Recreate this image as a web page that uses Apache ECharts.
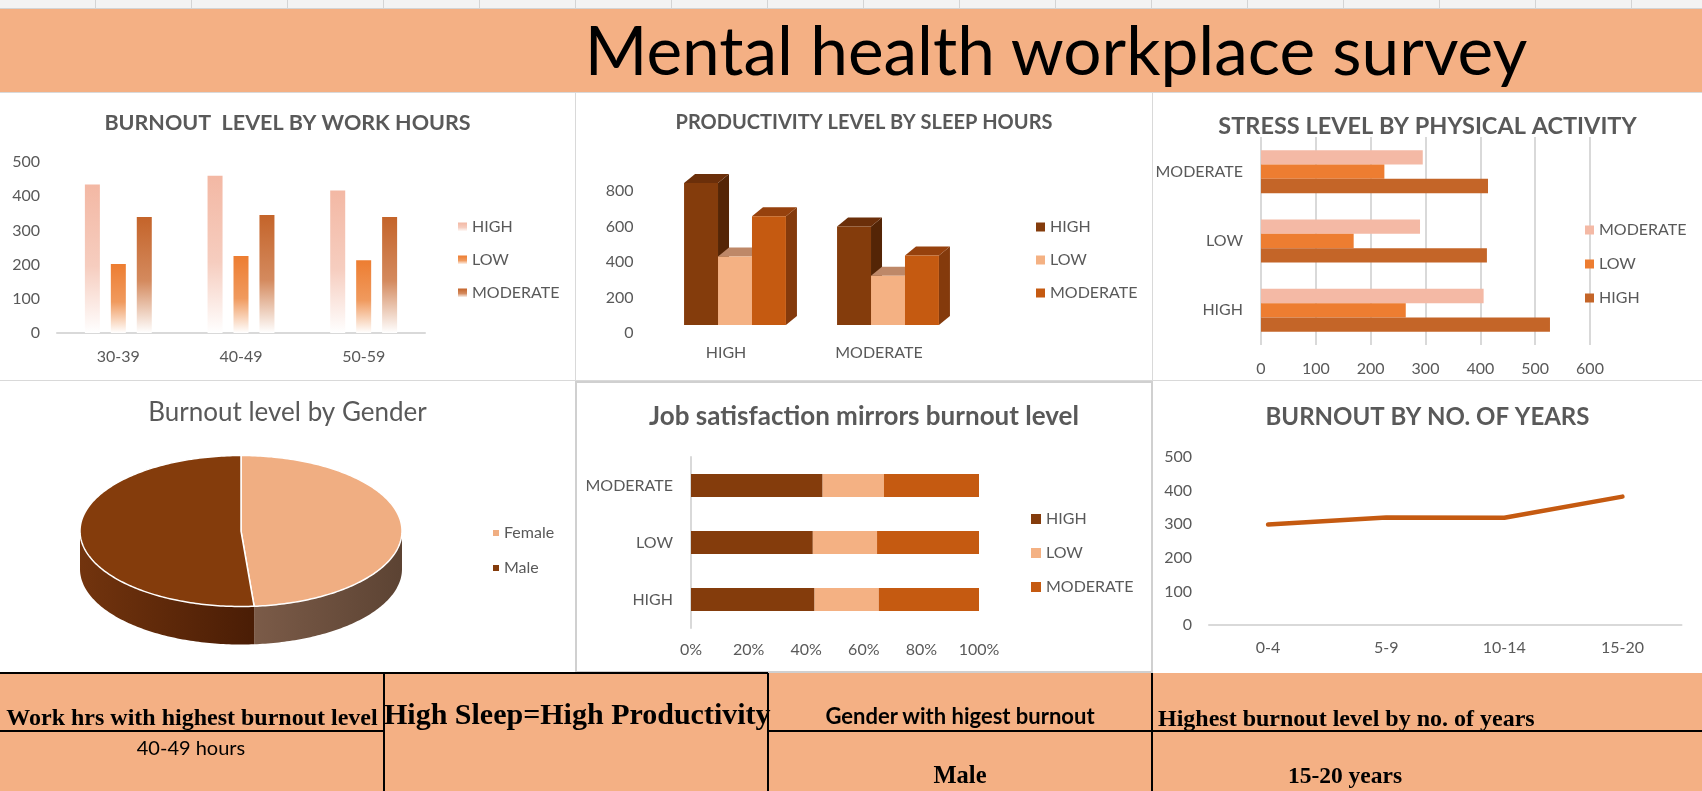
<!DOCTYPE html>
<html>
<head>
<meta charset="utf-8">
<title>Mental health workplace survey</title>
<script src="https://cdn.jsdelivr.net/npm/echarts@6/dist/echarts.min.js"></script>
<style>
  html, body { margin: 0; padding: 0; }
  body { width: 1702px; height: 791px; position: relative; overflow: hidden; background: #fff; font-family: Lato, sans-serif; }
  .abs { position: absolute; }
  #colhead { left: 0; top: 0; width: 1702px; height: 8px; background-color: #f3f3f3; border-bottom: 1px solid #d4d4d4;
    background-image: repeating-linear-gradient(to right, transparent 0, transparent 95px, #d4d4d4 95px, #d4d4d4 96px); }
  #banner { left: 0; top: 9px; width: 1702px; height: 83px; background: #F4B084; }
  #gridbg { left: 0; top: 92px; width: 1702px; height: 581px; background: #D9D9D9; }
  .panel { position: absolute; background: #fff; }
  #band { left: 0; top: 673px; width: 1702px; height: 118px; background: #F4B084; }
  .t { position: absolute; white-space: nowrap; line-height: 1; color: #000; }
  .serif { font-family: "Liberation Serif", "Times New Roman", serif; font-weight: bold; }
  .ln { position: absolute; background: #000; }
</style>
</head>
<body>
<div id="colhead" class="abs"></div>
<div id="banner" class="abs"></div>
<div class="t" style="left:556px; width:1000px; text-align:center; top:15px; font-size:67.5px;">Mental health workplace survey</div>

<div id="gridbg" class="abs"></div>
<div id="c1" class="panel" style="left:0; top:93px; width:575px; height:287px;"></div>
<div id="c2" class="panel" style="left:576px; top:93px; width:576px; height:287px;"></div>
<div id="c3" class="panel" style="left:1153px; top:93px; width:549px; height:287px;"></div>
<div id="c4" class="panel" style="left:0; top:381px; width:575px; height:292px;"></div>
<div id="c5" class="panel" style="left:576px; top:382px; width:576px; height:290px; outline:2px solid #d0d0d0; outline-offset:-1px;"></div>
<div id="c6" class="panel" style="left:1153px; top:381px; width:549px; height:292px;"></div>

<div id="band" class="abs"></div>
<div class="ln" style="left:0; top:672px; width:768px; height:2px;"></div>
<div class="ln" style="left:383px; top:673px; width:2px; height:118px;"></div>
<div class="ln" style="left:767px; top:673px; width:2px; height:118px;"></div>
<div class="ln" style="left:1151px; top:673px; width:2px; height:118px;"></div>
<div class="ln" style="left:0; top:730px; width:384px; height:2px;"></div>
<div class="ln" style="left:768px; top:730px; width:934px; height:2px;"></div>

<div class="t serif" style="left:0; width:384px; text-align:center; top:705px; font-size:24px;">Work hrs with highest burnout level</div>
<div class="t" style="left:0; width:382px; text-align:center; top:737px; font-size:20px;">40-49 hours</div>
<div class="t serif" style="left:384px; width:384px; text-align:center; top:699px; font-size:30px;">High Sleep=High Productivity</div>
<div class="t" style="left:768px; width:384px; text-align:center; top:705px; font-size:22px; font-weight:bold;">Gender with higest burnout</div>
<div class="t serif" style="left:768px; width:384px; text-align:center; top:763px; font-size:24.5px;">Male</div>
<div class="t serif" style="left:1158px; top:706px; font-size:24px;">Highest burnout level by no. of years</div>
<div class="t serif" style="left:1245px; width:200px; text-align:center; top:764px; font-size:23.5px;">15-20 years</div>

<script>
// ---- data ----
const workHours = ['30-39', '40-49', '50-59'];
const burnoutHigh = [434, 460, 417];
const burnoutLow = [202, 225, 213];
const burnoutModerate = [339, 345, 339];

const sleepCats = ['HIGH', 'MODERATE'];
const prodHigh = [800, 555];
const prodLow = [386, 278];
const prodModerate = [612, 391];

const activityCats = ['HIGH', 'LOW', 'MODERATE'];
const stressHigh = [527, 412, 414];
const stressLow = [264, 169, 225];
const stressModerate = [406, 290, 295];

const genders = ['Female', 'Male'];
const genderBurnout = [487, 513];

const satisfactionCats = ['HIGH', 'LOW', 'MODERATE'];
const satHigh = [42.9, 42.3, 45.7];
const satLow = [22.3, 22.3, 21.3];
const satModerate = [34.8, 35.4, 33.0];

const yearBands = ['0-4', '5-9', '10-14', '15-20'];
const yearBurnout = [299, 320, 319, 382];

// ---- shared styles ----
const GREY = '#595959';
const FONT = 'Lato';

function titleOf(text, top, size, weight) {
  return {
    text: text, left: 'center', top: top, padding: 0,
    textStyle: { fontFamily: FONT, fontSize: size, fontWeight: weight || 'bold', color: GREY }
  };
}
function legendAt(left, top, gap, w, h, data) {
  const l = {
    orient: 'vertical', left: left, top: top, padding: 0, itemGap: gap,
    itemWidth: w || 9, itemHeight: h || 9, icon: 'rect',
    textStyle: { fontFamily: FONT, fontSize: 16, color: GREY, lineHeight: 16 }
  };
  if (data) l.data = data;
  return l;
}
const labelStyle = { fontFamily: FONT, fontSize: 16, color: GREY };

function fade(color, mid) {
  return new echarts.graphic.LinearGradient(0, 0, 0, 1, [
    { offset: 0, color: color },
    { offset: 0.55, color: mid },
    { offset: 1, color: '#ffffff' }
  ]);
}

// ---- 1. burnout by work hours ----
const chart1 = echarts.init(document.getElementById('c1'));
chart1.setOption({
  animation: false,
  title: titleOf('BURNOUT  LEVEL BY WORK HOURS', 19, 21.5),
  legend: legendAt(458, 126, 17),
  grid: { left: 57, right: 150, top: 69, bottom: 47, outerBoundsMode: 'none' },
  xAxis: {
    type: 'category', data: workHours,
    axisLine: { lineStyle: { color: '#D9D9D9', width: 2 } },
    axisTick: { show: false },
    axisLabel: Object.assign({ margin: 16 }, labelStyle)
  },
  yAxis: {
    type: 'value', min: 0, max: 500, interval: 100,
    splitLine: { show: false },
    axisLabel: Object.assign({ margin: 17 }, labelStyle)
  },
  series: [
    { name: 'HIGH', type: 'bar', barWidth: 15, barGap: '73%', data: burnoutHigh,
      itemStyle: { color: fade('#F3B8A4', '#F6CDBF') } },
    { name: 'LOW', type: 'bar', barWidth: 15, barGap: '73%', data: burnoutLow,
      itemStyle: { color: fade('#ED7D31', '#F09A5E') } },
    { name: 'MODERATE', type: 'bar', barWidth: 15, barGap: '73%', data: burnoutModerate,
      itemStyle: { color: fade('#C4642A', '#D48A5E') } }
  ]
});

// ---- 2. productivity by sleep hours (3D columns) ----
function cuboid(slot, front, top, side) {
  return function (params, api) {
    const base = api.coord([api.value(0), 0]);
    const peak = api.coord([api.value(0), api.value(1)]);
    const band = api.size([1, 0])[0];
    const bw = band * 0.222;
    const x0 = base[0] - 1.5 * bw + slot * bw;
    const x1 = x0 + bw;
    const yT = peak[1], yB = base[1];
    const dx = 11, dy = 9;
    return {
      type: 'group',
      children: [
        { type: 'polygon', shape: { points: [[x1, yT], [x1 + dx, yT - dy], [x1 + dx, yB - dy], [x1, yB]] }, style: { fill: side } },
        { type: 'polygon', shape: { points: [[x0, yT], [x1, yT], [x1 + dx, yT - dy], [x0 + dx, yT - dy]] }, style: { fill: top } },
        { type: 'rect', shape: { x: x0, y: yT, width: bw, height: yB - yT }, style: { fill: front } }
      ]
    };
  };
}
const chart2 = echarts.init(document.getElementById('c2'));
chart2.setOption({
  animation: false,
  title: titleOf('PRODUCTIVITY LEVEL BY SLEEP HOURS', 20, 20),
  legend: legendAt(460, 126, 17),
  grid: { left: 82.5, right: 187.5, top: 90, bottom: 55, outerBoundsMode: 'none' },
  xAxis: {
    type: 'category', data: sleepCats,
    axisLine: { show: false }, axisTick: { show: false },
    axisLabel: Object.assign({ margin: 20, padding: [0, 18, 0, 0] }, labelStyle)
  },
  yAxis: {
    type: 'value', min: 0, max: 800, interval: 200,
    axisLine: { show: false }, splitLine: { show: false },
    axisLabel: Object.assign({ margin: 25, verticalAlign: 'top' }, labelStyle)
  },
  series: [
    { name: 'HIGH', type: 'custom', encode: { x: 0, y: 1 }, itemStyle: { color: '#843C0C' },
      renderItem: cuboid(0, '#843C0C', '#6B2F0A', '#542506'),
      data: sleepCats.map((c, i) => [i, prodHigh[i]]) },
    { name: 'LOW', type: 'custom', encode: { x: 0, y: 1 }, itemStyle: { color: '#F4B183' },
      renderItem: cuboid(1, '#F4B183', '#BE8868', '#A86E4C'),
      data: sleepCats.map((c, i) => [i, prodLow[i]]) },
    { name: 'MODERATE', type: 'custom', encode: { x: 0, y: 1 }, itemStyle: { color: '#C55A11' },
      renderItem: cuboid(2, '#C55A11', '#96410D', '#843A0C'),
      data: sleepCats.map((c, i) => [i, prodModerate[i]]) }
  ]
});

// ---- 3. stress by physical activity ----
const chart3 = echarts.init(document.getElementById('c3'));
chart3.setOption({
  animation: false,
  title: titleOf('STRESS LEVEL BY PHYSICAL ACTIVITY', 21, 23.5),
  legend: legendAt(432, 129, 18, 9, 9, ['MODERATE', 'LOW', 'HIGH']),
  grid: { left: 108, right: 112, top: 44, bottom: 35, outerBoundsMode: 'none' },
  xAxis: {
    type: 'value', min: 0, max: 600, interval: 100,
    axisLine: { show: false }, axisTick: { show: false },
    splitLine: { lineStyle: { color: '#D9D9D9', width: 2 } },
    axisLabel: Object.assign({ margin: 16 }, labelStyle)
  },
  yAxis: {
    type: 'category', data: activityCats,
    axisLine: { show: false }, axisTick: { show: false },
    axisLabel: Object.assign({ margin: 18 }, labelStyle)
  },
  series: [
    { name: 'MODERATE', type: 'bar', barGap: 0, barCategoryGap: '38%', data: stressModerate, itemStyle: { color: '#F4B9A5' } },
    { name: 'LOW', type: 'bar', barGap: 0, barCategoryGap: '38%', data: stressLow, itemStyle: { color: '#ED7D31' } },
    { name: 'HIGH', type: 'bar', barGap: 0, barCategoryGap: '38%', data: stressHigh, itemStyle: { color: '#C46528' } }
  ]
});

// ---- 4. burnout by gender (3D pie) ----
const PIE = { cx: 241, cy: 150, rx: 161, ry: 75.5, depth: 38 };
const genderTotal = genderBurnout.reduce((a, b) => a + b, 0);
function ellPt(t, dy) {
  const r = t * Math.PI / 180;
  return [PIE.cx + PIE.rx * Math.sin(r), PIE.cy - PIE.ry * Math.cos(r) + dy];
}
function arc(a, b, dy) {
  const pts = [];
  const n = Math.max(2, Math.ceil(Math.abs(b - a)));
  for (let k = 0; k <= n; k++) pts.push(ellPt(a + (b - a) * k / n, dy));
  return pts;
}
function pieSlice(idx, topColor, sideLeft, sideRight) {
  return function (params, api) {
    let before = 0;
    for (let k = 0; k < idx; k++) before += genderBurnout[k];
    const a0 = before / genderTotal * 360;
    const a1 = (before + api.value(0)) / genderTotal * 360;
    const children = [];
    const s0 = Math.max(a0, 90), s1 = Math.min(a1, 270);
    if (s1 > s0) {
      const front = arc(s0, s1, 0);
      const back = arc(s1, s0, PIE.depth);
      const xs = front.map(p => p[0]);
      const xl = Math.min.apply(null, xs), xr = Math.max.apply(null, xs);
      children.push({
        type: 'polygon', shape: { points: front.concat(back) },
        style: { fill: new echarts.graphic.LinearGradient(xl, 0, xr, 0, [
          { offset: 0, color: sideLeft }, { offset: 1, color: sideRight }], true) }
      });
    }
    children.push({
      type: 'polygon', shape: { points: [[PIE.cx, PIE.cy]].concat(arc(a0, a1, 0)) },
      style: { fill: topColor, stroke: '#ffffff', lineWidth: 1.5 }
    });
    return { type: 'group', children: children };
  };
}
const chart4 = echarts.init(document.getElementById('c4'));
chart4.setOption({
  animation: false,
  title: titleOf('Burnout level by Gender', 19, 26, 'normal'),
  legend: legendAt(493, 144, 19, 6, 6),
  series: [
    { name: genders[0], type: 'custom', coordinateSystem: 'none', itemStyle: { color: '#F0AE82' },
      renderItem: pieSlice(0, '#F0AE82', '#7B5B48', '#5C4333'), data: [genderBurnout[0]] },
    { name: genders[1], type: 'custom', coordinateSystem: 'none', itemStyle: { color: '#843C0C' },
      renderItem: pieSlice(1, '#843C0C', '#72340E', '#4A1D05'), data: [genderBurnout[1]] }
  ]
});

// ---- 5. job satisfaction (100% stacked) ----
const chart5 = echarts.init(document.getElementById('c5'));
chart5.setOption({
  animation: false,
  title: titleOf('Job satisfaction mirrors burnout level', 22, 26),
  legend: legendAt(455, 129, 18, 10, 10),
  grid: { left: 115, right: 173, top: 75, bottom: 44, outerBoundsMode: 'none' },
  xAxis: {
    type: 'value', min: 0, max: 100, interval: 20,
    axisLine: { show: false }, axisTick: { show: false }, splitLine: { show: false },
    axisLabel: Object.assign({ margin: 14, formatter: '{value}%' }, labelStyle)
  },
  yAxis: {
    type: 'category', data: satisfactionCats,
    axisLine: { lineStyle: { color: '#D9D9D9', width: 2 } }, axisTick: { show: false },
    axisLabel: Object.assign({ margin: 18 }, labelStyle)
  },
  series: [
    { name: 'HIGH', type: 'bar', stack: 'all', barCategoryGap: '60%', data: satHigh, itemStyle: { color: '#843C0C' } },
    { name: 'LOW', type: 'bar', stack: 'all', barCategoryGap: '60%', data: satLow, itemStyle: { color: '#F4B183' } },
    { name: 'MODERATE', type: 'bar', stack: 'all', barCategoryGap: '60%', data: satModerate, itemStyle: { color: '#C55A11' } }
  ]
});

// ---- 6. burnout by years ----
const chart6 = echarts.init(document.getElementById('c6'));
chart6.setOption({
  animation: false,
  title: titleOf('BURNOUT BY NO. OF YEARS', 24, 24),
  grid: { left: 56, right: 20.5, top: 76, bottom: 48, outerBoundsMode: 'none' },
  xAxis: {
    type: 'category', data: yearBands,
    axisLine: { lineStyle: { color: '#D9D9D9', width: 2 } }, axisTick: { show: false },
    axisLabel: Object.assign({ margin: 15 }, labelStyle)
  },
  yAxis: {
    type: 'value', min: 0, max: 500, interval: 100,
    splitLine: { show: false },
    axisLabel: Object.assign({ margin: 17 }, labelStyle)
  },
  series: [
    { name: 'Burnout', type: 'line', data: yearBurnout, symbol: 'none',
      lineStyle: { color: '#C55A11', width: 4.5, cap: 'round', join: 'round' } }
  ]
});
</script>
</body>
</html>
